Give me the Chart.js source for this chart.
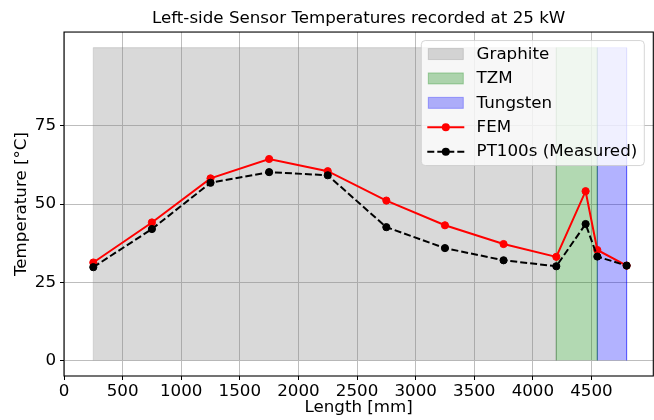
<!DOCTYPE html>
<html>
<head>
<meta charset="utf-8">
<script src="https://cdn.jsdelivr.net/npm/chart.js@4.4.1/dist/chart.umd.min.js"></script>
<style>
  html, body { margin: 0; padding: 0; background: #fff; }
</style>
</head>
<body>
<canvas id="chartSuhu" width="654" height="420"></canvas>
<script>
// posisi sensor (mm) dan suhu
let lengths = [250, 750, 1250, 1750, 2250, 2750, 3250, 3750, 4200, 4450, 4550, 4800];
let femTemps = [31.3, 44.1, 58.2, 64.4, 60.5, 51.1, 43.2, 37.2, 33.1, 54.1, 35.3, 30.3];
let pt100Temps = [29.8, 42.0, 56.8, 60.2, 59.2, 42.6, 35.9, 32.0, 30.1, 43.6, 33.2, 30.3];

// daerah material
let materials = ['Graphite', 'TZM', 'Tungsten'];
let matStart = [250, 4200, 4550];
let matEnd = [4200, 4550, 4800];
let matTop = 100;
let matColors = ['rgba(128,128,128,0.3)', 'rgba(0,128,0,0.3)', 'rgba(0,0,255,0.3)'];

let xTicks = [0, 500, 1000, 1500, 2000, 2500, 3000, 3500, 4000, 4500];
let yTicks = [0, 25, 50, 75];

const fontName = '"DejaVu Sans", sans-serif';
const fontSize = 16.7;

Chart.defaults.font.family = fontName;
Chart.defaults.font.size = fontSize;
Chart.defaults.color = '#000';

let datasets = [];
materials.forEach(function(nama, i){
    datasets.push({
        label: nama,
        kind: 'span',
        data: [
            {x: matStart[i], y: 0},
            {x: matStart[i], y: matTop},
            {x: matEnd[i], y: matTop},
            {x: matEnd[i], y: 0}
        ],
        backgroundColor: matColors[i],
        borderColor: matColors[i],
        borderWidth: 1,
        pointRadius: 0,
        fill: 'origin',
        tension: 0,
        order: 10 - i
    });
});
datasets.push({
    label: 'FEM',
    kind: 'line',
    data: lengths.map((x, i) => ({x: x, y: femTemps[i]})),
    borderColor: '#ff0000',
    backgroundColor: '#ff0000',
    borderWidth: 2,
    pointRadius: 3.6,
    pointBorderWidth: 1,
    fill: false,
    order: 1
});
datasets.push({
    label: 'PT100s (Measured)',
    kind: 'line',
    data: lengths.map((x, i) => ({x: x, y: pt100Temps[i]})),
    borderColor: '#000000',
    backgroundColor: '#000000',
    borderWidth: 2,
    borderDash: [7, 3],
    pointRadius: 3.6,
    pointBorderWidth: 1,
    fill: false,
    order: 0
});

// kotak sumbu (spines)
const bingkai = {
    id: 'bingkai',
    afterDatasetsDraw(chart) {
        const {ctx, chartArea: a} = chart;
        ctx.save();
        ctx.strokeStyle = '#000';
        ctx.lineWidth = 1.1;
        ctx.strokeRect(a.left, a.top, a.right - a.left, a.bottom - a.top);
        ctx.restore();
    }
};

// legend di dalam area grafik, pojok kanan atas
const legendDalam = {
    id: 'legendDalam',
    afterDraw(chart) {
        const {ctx, chartArea: a} = chart;
        const w = 223, h = 125;
        const x0 = a.right - 9 - w, y0 = a.top + 8.5;
        ctx.save();
        ctx.beginPath();
        ctx.roundRect(x0, y0, w, h, 4);
        ctx.fillStyle = 'rgba(255,255,255,0.8)';
        ctx.fill();
        ctx.strokeStyle = 'rgba(204,204,204,0.8)';
        ctx.lineWidth = 1;
        ctx.stroke();

        ctx.font = fontSize + 'px ' + fontName;
        ctx.textBaseline = 'middle';
        chart.data.datasets.forEach(function(ds, i){
            const cy = y0 + 13.5 + i * 24.4;
            const sx = x0 + 7;
            if (ds.kind === 'span') {
                ctx.fillStyle = ds.backgroundColor;
                ctx.fillRect(sx, cy - 5.5, 35, 11);
                ctx.strokeStyle = ds.borderColor;
                ctx.strokeRect(sx, cy - 5.5, 35, 11);
            } else {
                ctx.strokeStyle = ds.borderColor;
                ctx.lineWidth = ds.borderWidth;
                ctx.setLineDash(ds.borderDash || []);
                ctx.beginPath();
                ctx.moveTo(sx - 1, cy);
                ctx.lineTo(sx + 36, cy);
                ctx.stroke();
                ctx.setLineDash([]);
                ctx.fillStyle = ds.backgroundColor;
                ctx.beginPath();
                ctx.arc(sx + 17.5, cy, 4, 0, Math.PI * 2);
                ctx.fill();
                ctx.lineWidth = 1;
            }
            ctx.fillStyle = '#000';
            ctx.fillText(ds.label, x0 + 55.3, cy + 0.5);
        });
        ctx.restore();
    }
};

let chart = new Chart(document.getElementById('chartSuhu'), {
    type: 'line',
    data: { datasets: datasets },
    options: {
        responsive: false,
        animation: false,
        layout: { autoPadding: false, padding: { right: 0.7 } },
        plugins: {
            legend: { display: false },
            tooltip: { enabled: false },
            title: {
                display: true,
                fullSize: false,
                text: 'Left-side Sensor Temperatures recorded at 25 kW',
                font: { size: fontSize, weight: 'normal' },
                color: '#000',
                padding: { top: 9, bottom: 3 }
            }
        },
        scales: {
            x: {
                type: 'linear',
                min: 0,
                max: 5027.5,
                afterBuildTicks: function(s){ s.ticks = xTicks.map(v => ({value: v})); },
                afterFit: function(s){ s.height = 44; s.paddingLeft = 0; s.paddingRight = 0; },
                ticks: {
                    color: '#000', padding: 2, maxRotation: 0, autoSkip: false,
                    callback: function(v){ return String(v); }
                },
                grid: { color: '#bdbdbd', lineWidth: 1, tickColor: '#000', tickLength: 4 },
                border: { display: false },
                title: { display: true, text: 'Length [mm]', color: '#000', padding: { top: 0, bottom: 2 } }
            },
            y: {
                min: -5,
                max: 105,
                afterBuildTicks: function(s){ s.ticks = yTicks.map(v => ({value: v})); },
                afterFit: function(s){ s.width = 64; },
                ticks: { color: '#000', padding: 4 },
                grid: { color: '#bdbdbd', lineWidth: 1, tickColor: '#000', tickLength: 4 },
                border: { display: false },
                title: { display: true, text: 'Temperature [°C]', color: '#000', padding: { top: 12, bottom: 0 } }
            }
        }
    },
    plugins: [bingkai, legendDalam]
});
</script>
</body>
</html>
